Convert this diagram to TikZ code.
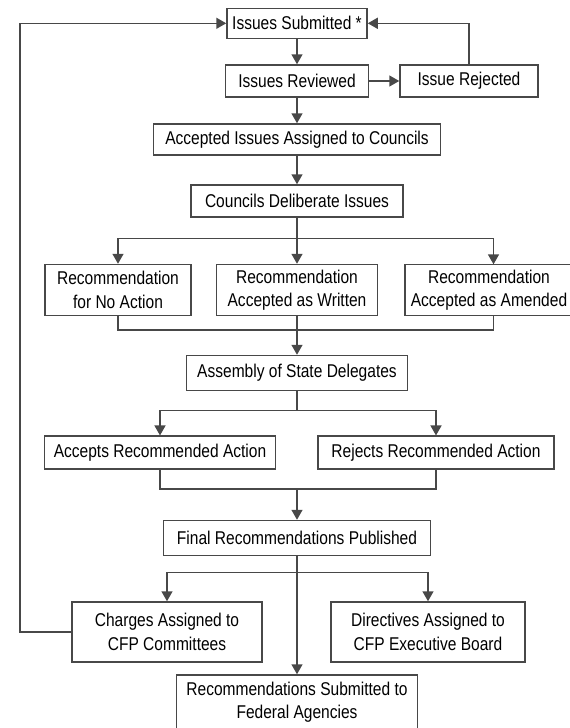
\documentclass[tikz,border=0pt]{standalone}
\usepackage{fontspec}
\setmainfont{Liberation Sans}[FakeStretch=0.84]
\usetikzlibrary{arrows.meta}
\definecolor{ln}{RGB}{72,72,72}
\tikzset{
  box/.style={draw=ln, line width=1.5pt, fill=white, rectangle, inner sep=0pt, align=center,
    font=\fontsize{18.5}{23.5}\selectfont, text=black},
  conn/.style={draw=ln, line width=1.5pt},
  arr/.style={conn, -{Triangle[length=10pt,width=11pt]}}
}
\begin{document}
\begin{tikzpicture}[x=1pt,y=-1pt]
\useasboundingbox (0,0) rectangle (570,728);
% nodes
\node[box, minimum width=140pt, minimum height=30pt] (sub) at (297,23.3) {Issues Submitted *};
\node[box, minimum width=143pt, minimum height=32pt] (rev) at (297,81) {Issues Reviewed};
\node[box, minimum width=138pt, minimum height=32pt] (rej) at (469,81) {Issue Rejected};
\node[box, minimum width=287pt, minimum height=31pt] (acc) at (297,139.5) {Accepted Issues Assigned to Councils};
\node[box, minimum width=212pt, minimum height=32pt] (del) at (297,201) {Councils Deliberate Issues};
\node[box, minimum width=146pt, minimum height=51pt] (r1) at (118,290) {Recommendation\\for No Action};
\node[box, minimum width=161pt, minimum height=51pt] (r2) at (297,290) {Recommendation\\Accepted as Written};
\node[box, minimum width=168pt, minimum height=51pt] (r3) at (489,290) {Recommendation\\Accepted as Amended};
\node[box, minimum width=221pt, minimum height=35pt] (asm) at (297,373) {Assembly of State Delegates};
\node[box, minimum width=231pt, minimum height=33pt] (acp) at (160,452.7) {Accepts Recommended Action};
\node[box, minimum width=236pt, minimum height=33pt] (rjt) at (436,452.7) {Rejects Recommended Action};
\node[box, minimum width=267pt, minimum height=35pt] (fin) at (297,538) {Final Recommendations Published};
\node[box, minimum width=190pt, minimum height=60pt] (chg) at (167,632) {Charges Assigned to\\CFP Committees};
\node[box, minimum width=194pt, minimum height=60pt] (dir) at (428,632) {Directives Assigned to\\CFP Executive Board};
\node[box, minimum width=241pt, minimum height=54pt] (fed) at (297,702) {Recommendations Submitted to\\Federal Agencies};
% junction coordinates
\coordinate (b1) at (297,238.3);
\coordinate (m1) at (297,330);
\coordinate (b2) at (297,410.7);
\coordinate (m2) at (297,489);
\coordinate (b3) at (297,572.7);
\coordinate (lp) at (20,632);
\coordinate (r3t) at (493.5,264.3);
\coordinate (r3b) at (493.5,315.7);
% connectors
\draw[arr] (sub.south) -- (rev.north);
\draw[arr] (rev.east) -- (rej.west);
\draw[arr] (rej.north) |- (sub.east);
\draw[arr] (rev.south) -- (acc.north);
\draw[arr] (acc.south) -- (del.north);
\draw[conn] (del.south) -- (b1);
\draw[arr] (b1) -| (r1.north);
\draw[arr] (b1) -| (r3t);
\draw[arr] (b1) -- (r2.north);
\draw[conn] (r1.south) |- (m1);
\draw[conn] (r3b) |- (m1);
\draw[conn] (r2.south) -- (m1);
\draw[arr] (m1) -- (asm.north);
\draw[conn] (asm.south) -- (b2);
\draw[arr] (b2) -| (acp.north);
\draw[arr] (b2) -| (rjt.north);
\draw[conn] (acp.south) |- (m2);
\draw[conn] (rjt.south) |- (m2);
\draw[arr] (m2) -- (fin.north);
\draw[arr] (fin.south) -- (fed.north);
\draw[arr] (b3) -| (chg.north);
\draw[arr] (b3) -| (dir.north);
\draw[arr] (chg.west) -- (lp) |- (sub.west);
\end{tikzpicture}
\end{document}
